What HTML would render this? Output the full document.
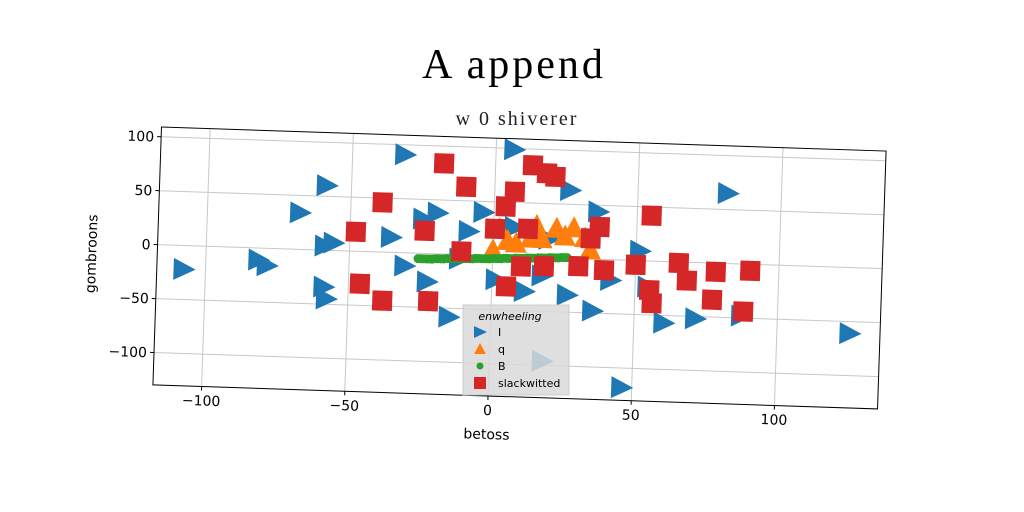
<!DOCTYPE html>
<html><head><meta charset="utf-8"><style>
html,body{margin:0;padding:0;background:#fff;width:1024px;height:512px;overflow:hidden}
text{font-family:"DejaVu Sans","Liberation Sans",sans-serif}
</style></head><body>
<svg id="chart" width="1024" height="512" viewBox="0 0 1024 512" xmlns="http://www.w3.org/2000/svg">
<text x="514" y="78" text-anchor="middle" style="font-family:'Liberation Serif',serif;font-size:42px;letter-spacing:3px" fill="#000">A append</text>
<text x="517" y="125" text-anchor="middle" style="font-family:'Liberation Serif',serif;font-size:20px;letter-spacing:2px" fill="#222">w 0 shiverer</text>
<g id="rot" transform="rotate(1.9 520 268)">
<g id="grid"></g>
<g id="marks"></g>
<rect x="157" y="139" width="725" height="258" fill="none" stroke="#000" stroke-width="1"/>
<g id="ticks"></g>
<text x="492" y="440" text-anchor="middle" font-size="14">betoss</text>
<text transform="translate(96 268) rotate(-90)" text-anchor="middle" font-size="14">gombroons</text>
</g>
<g>
<rect x="463" y="305" width="106" height="90" fill="#d9d9d9" fill-opacity="0.85" stroke="#ccc"/>
<text x="510" y="320" text-anchor="middle" font-size="11" font-style="italic">enwheeling</text>
<polygon points="474,326 474,338 487,332" fill="#1f77b4"/>
<text x="498" y="336" font-size="11">I</text>
<polygon points="480,343 474,354 486,354" fill="#ff7f0e"/>
<text x="498" y="353" font-size="11">q</text>
<circle cx="480" cy="366" r="3.5" fill="#2ca02c"/>
<text x="498" y="370" font-size="11">B</text>
<rect x="474" y="377" width="12" height="12" fill="#d62728"/>
<text x="498" y="387" font-size="11">slackwitted</text>
</g>
</svg>
<script>
const xTicks=[-100,-50,0,50,100];
const yTicks=[-100,-50,0,50,100];
const iX=[-32,6,26,-59,-68,-25,-20,-4,36,-36,-59,-56,-9,-108,-82,-79,-31,-12,51,-59,-58,-23,1,11,-15,35,60,81,125,46,18,41,54,71,87,19,7,17,26];
const iY=[91,99,63,60,34,32,38,40,44,14,4,7,22,-22,-11,-16,-12,-4,9,-34,-45,-26,-22,-32,-58,-48,-57,65,-61,-118,-96,-19,-24,-52,-48,17,27,-17,-34];
const qX=[2,5,15,17,22,28,32,34,8,0,13,25];
const qY=[25,14,29,17,27,28,19,8,12,5,17,20];
const bX=[-26,-25,-24,-23,-22,-21,-20,-19,-18,-17,-16,-15,-14,-13,-12,-11,-10,-9,-8,-7,-6,-5,-4,-3,-2,-1,0,1,2,3,4,5,6,7,8,9,10,11,12,13,14,15,16,17,18,19,20,21,22,23,24,25,26];
const bY=[-5,-5,-5,-5,-5,-5,-4.5,-4.5,-4.5,-4.5,-4,-4,-4,-4,-4,-4,-3.5,-3.5,-3.5,-3.5,-3,-3,-3,-3,-3,-3,-2.5,-2.5,-2.5,-2.5,-2,-2,-2,-2,-1.5,-1.5,-1.5,-1.5,-1,-1,-1,-1,-0.5,-0.5,-0.5,-0.5,0,0,0,0,0.5,0.5,0.5];
const sX=[-18,-10,7,4,13,18,21,-24,-11,0.5,12,34,37,10,18,5,30,39,-22,50,-39,-48,-46,-38,55,65,68,78,90,55,56,77,88];
const sY=[84,63,60,46,85,78,75,21,3,25,26,19,30,-9,-8,-28,-7,-10,-44,-4,46,18,-30,-45,42,-1,-17,-8,-6,-27,-39,-34,-44];
const L=157,R=882,T=139,B=397,x0=-117,x1=136,y0=-130,y1=109;
const sx=v=>L+(v-x0)/(x1-x0)*(R-L);
const sy=v=>B-(v-y0)/(y1-y0)*(B-T);
const NS='http://www.w3.org/2000/svg';
function mk(tag,parent,attrs){const e=document.createElementNS(NS,tag);for(const k in attrs)e.setAttribute(k,attrs[k]);document.getElementById(parent).appendChild(e);return e;}
xTicks.forEach(v=>{
 const g=mk('line','grid',{x1:sx(v),x2:sx(v),y1:T,y2:B,stroke:'#c8c8c8','stroke-width':1});
 
 
 const t=mk('line','ticks',{x1:sx(v),x2:sx(v),y1:B,y2:B+4,stroke:'#000'});
 
 
 const l=mk('text','ticks',{x:sx(v),y:B+19,'text-anchor':'middle','font-size':14});
 
 
 l.textContent=v<0?'\u2212'+(-v):String(v);
});
yTicks.forEach(v=>{
 const g=mk('line','grid',{x1:L,x2:R,y1:sy(v),y2:sy(v),stroke:'#c8c8c8','stroke-width':1});
 
 
 const t=mk('line','ticks',{x1:L-4,x2:L,y1:sy(v),y2:sy(v),stroke:'#000'});
 
 
 const l=mk('text','ticks',{x:L-7,y:sy(v)+5,'text-anchor':'end','font-size':14});
 
 
 l.textContent=v<0?'\u2212'+(-v):String(v);
});
iX.forEach((v,i)=>{const cx=sx(v),cy=sy(iY[i]);
 const p=mk('polygon','marks',{points:`${cx-9},${cy-11} ${cx-9},${cy+11} ${cx+13},${cy}`,fill:'#1f77b4'});
 
 
});
qX.forEach((v,i)=>{const cx=sx(v),cy=sy(qY[i]);
 const p=mk('polygon','marks',{points:`${cx},${cy-12} ${cx-11},${cy+9} ${cx+11},${cy+9}`,fill:'#ff7f0e'});
 
 
});
bX.forEach((v,i)=>{
 const c=mk('circle','marks',{cx:sx(v),cy:sy(bY[i]),r:4.5,fill:'#2ca02c'});
 
 
});
sX.forEach((v,i)=>{
 const r=mk('rect','marks',{x:sx(v)-10,y:sy(sY[i])-10,width:20,height:20,fill:'#d62728'});
 
 
});
</script>
</body></html>
